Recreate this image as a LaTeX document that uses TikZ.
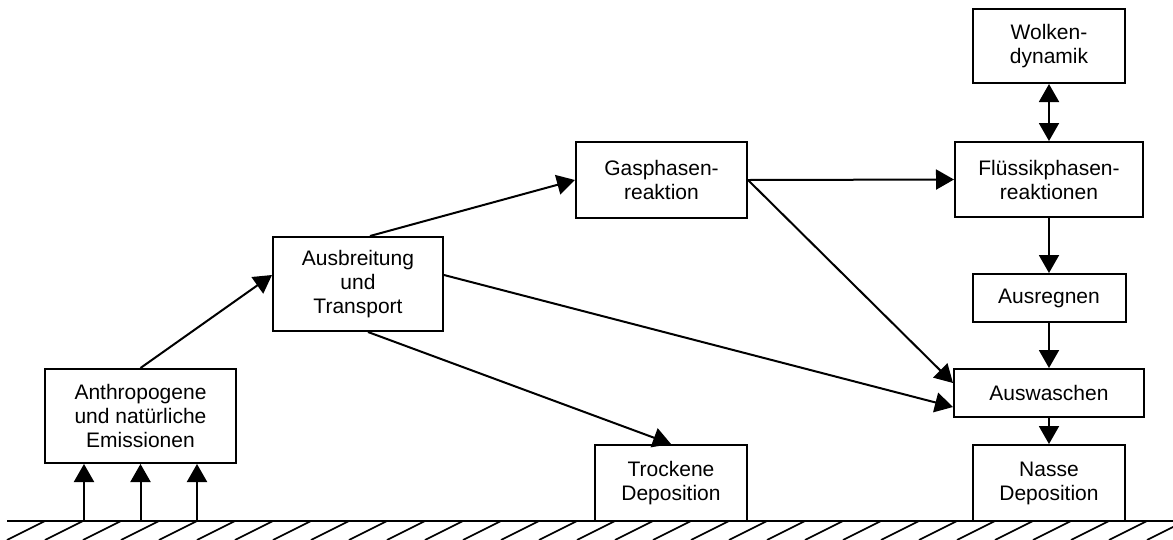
\documentclass[tikz,border=0pt]{standalone}
\usepackage{fontspec}
\setmainfont{Liberation Sans}
\usetikzlibrary{arrows.meta}
\begin{document}
\begin{tikzpicture}[x=1pt,y=-1pt,
  box/.style={draw,line width=2pt,inner sep=0pt,align=center,font=\fontsize{21}{24}\selectfont},
  conn/.style={line width=2pt,-{Triangle[length=18pt,width=20pt]}},
  dconn/.style={line width=2pt,{Triangle[length=18pt,width=20pt]}-{Triangle[length=18pt,width=20pt]}},
  hatch/.style={line width=1.6pt}]
\useasboundingbox (0,0) rectangle (1173,539);
\node[box,minimum width=191pt,minimum height=94pt] (anth) at (140.5,416) {Anthropogene\\und natürliche\\Emissionen};
\node[box,minimum width=170pt,minimum height=94pt] (ausb) at (358,284) {Ausbreitung\\und\\Transport};
\node[box,minimum width=171pt,minimum height=76pt] (gas) at (661.5,180) {Gasphasen-\\reaktion};
\node[box,minimum width=152pt,minimum height=76pt] (troc) at (671,483) {Trockene\\Deposition};
\node[box,minimum width=152pt,minimum height=74pt] (wolk) at (1049,46) {Wolken-\\dynamik};
\node[box,minimum width=188pt,minimum height=75pt] (flu) at (1049,179.5) {Flüssikphasen-\\reaktionen};
\node[box,minimum width=153pt,minimum height=48pt] (ausr) at (1049,298) {Ausregnen};
\node[box,minimum width=190pt,minimum height=48pt] (ausw) at (1049,393) {Auswaschen};
\node[box,minimum width=152pt,minimum height=76pt] (nass) at (1049,483) {Nasse\\Deposition};
% ground
\coordinate (gl) at (7,521);
\coordinate (gr) at (1173,521);
\draw[line width=2pt] (gl) -- (gr);
\begin{scope}
\clip (0,521) rectangle (1173,539);
\foreach \x in {45,83,...,1250} \draw[hatch] (\x,521) -- (\x-38,540);
\end{scope}
% emissions
\coordinate (e1) at (84,521);
\coordinate (e2) at (140.5,521);
\coordinate (e3) at (197,521);
\foreach \e in {e1,e2,e3} \draw[conn] (\e) -- (\e |- anth.south);
% connectors
\draw[conn] (anth.north) -- ([yshift=9pt]ausb.west);
\draw[conn] ([xshift=12pt]ausb.north) -- (gas.west);
\draw[conn] ([yshift=9pt]ausb.east) -- ([yshift=-14pt]ausw.west);
\draw[conn] ([xshift=10pt]ausb.south) -- (troc.north);
\draw[conn] (gas.east) -- (flu.west);
\draw[conn] (gas.east) -- ([yshift=10pt]ausw.west);
\draw[dconn] (wolk.south) -- (flu.north);
\draw[conn] (flu.south) -- (ausr.north);
\draw[conn] (ausr.south) -- (ausw.north);
\draw[conn] (ausw.south) -- (nass.north);
\end{tikzpicture}
\end{document}
